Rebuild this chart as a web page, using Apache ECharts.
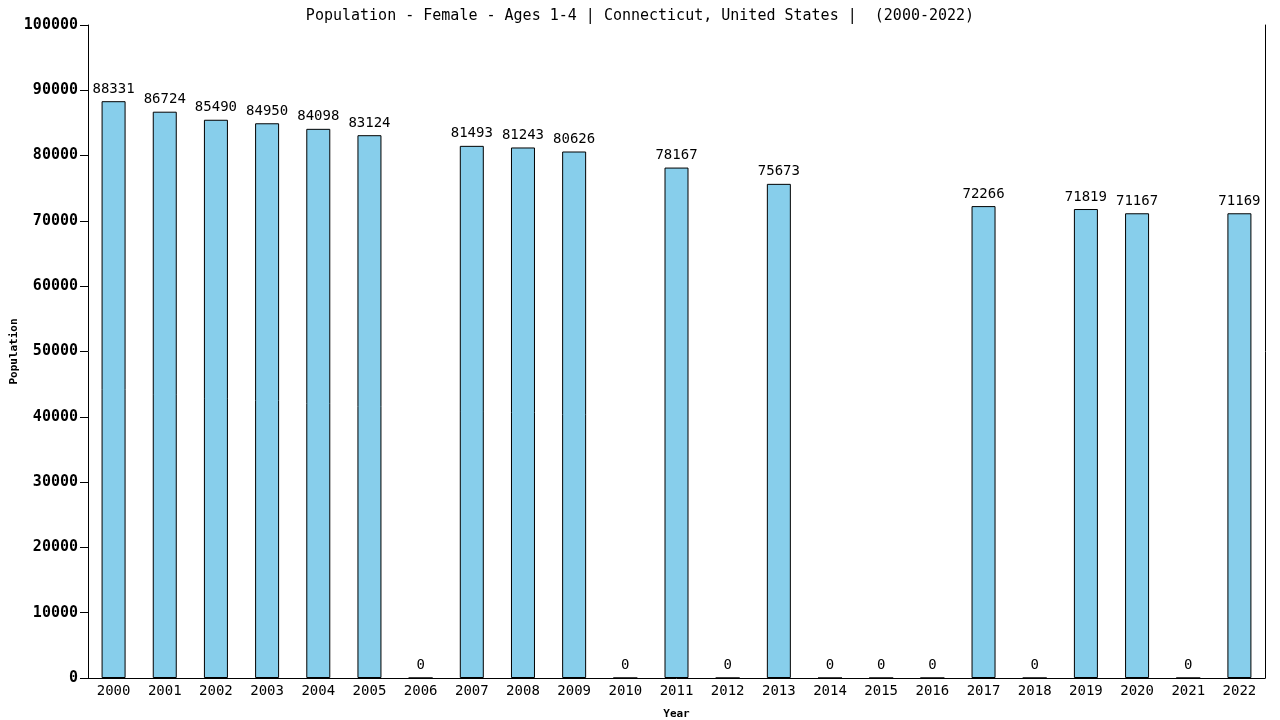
<!DOCTYPE html>
<html>
<head>
<meta charset="utf-8">
<script src="https://cdn.jsdelivr.net/npm/echarts@6/dist/echarts.min.js"></script>
<style>
  html, body { margin: 0; padding: 0; background: #fff; }
  #chart { width: 1280px; height: 720px; }
</style>
</head>
<body>
<div id="chart"></div>
<script>
// years and values
var years = ['2000','2001','2002','2003','2004','2005','2006','2007','2008','2009','2010',
  '2011','2012','2013','2014','2015','2016','2017','2018','2019','2020','2021','2022'];
var population = [88331, 86724, 85490, 84950, 84098, 83124, 0, 81493, 81243, 80626, 0,
  78167, 0, 75673, 0, 0, 0, 72266, 0, 71819, 71167, 0, 71169];
var titleText = 'Population - Female - Ages 1-4 | Connecticut, United States |  (2000-2022)';

var mono = 'DejaVu Sans Mono';
var chart = echarts.init(document.getElementById('chart'));

var option = {
  backgroundColor: '#fff',
  animation: false,
  title: {
    text: titleText,
    left: 'center',
    top: 4,
    textStyle: { fontFamily: mono, fontSize: 15, fontWeight: 'normal', color: '#000' }
  },
  grid: { left: 88, right: 15, top: 25, bottom: 42, containLabel: false, outerBoundsMode: 'none' },
  xAxis: {
    type: 'category',
    data: years,
    name: 'Year',
    nameLocation: 'middle',
    nameGap: 31,
    nameMoveOverlap: false,
    nameTextStyle: { fontFamily: mono, fontSize: 11, fontWeight: 'bold', color: '#000' },
    axisLine: { lineStyle: { color: '#000', width: 1 } },
    axisTick: { show: false },
    axisLabel: { fontFamily: mono, fontSize: 14, color: '#000', margin: 6 }
  },
  yAxis: [{
    type: 'value',
    min: 0,
    max: 100000,
    interval: 10000,
    name: 'Population',
    nameLocation: 'middle',
    nameGap: 68,
    nameMoveOverlap: false,
    nameTextStyle: { fontFamily: mono, fontSize: 11, fontWeight: 'bold', color: '#000' },
    axisLine: { show: true, lineStyle: { color: '#000', width: 1 } },
    axisTick: { show: true, length: 8, lineStyle: { color: '#000' } },
    axisLabel: {
      fontFamily: mono, fontSize: 15, fontWeight: 'bold', color: '#000', margin: 10,
      formatter: function (v) { return String(v); }
    },
    splitLine: { show: false }
  }, {
    // right border line only
    type: 'value',
    position: 'right',
    min: 0,
    max: 100000,
    interval: 10000,
    axisLine: { show: true, lineStyle: { color: '#000', width: 1 } },
    axisTick: { show: false },
    axisLabel: { show: false },
    splitLine: { show: false }
  }],
  series: [{
    type: 'bar',
    data: population,
    barWidth: 24,
    itemStyle: { color: '#87CEEB', borderColor: '#000', borderWidth: 1 },
    label: {
      show: true,
      position: 'top',
      distance: 5,
      fontFamily: mono,
      fontSize: 14,
      color: '#000'
    }
  }]
};

chart.setOption(option);
</script>
</body>
</html>
